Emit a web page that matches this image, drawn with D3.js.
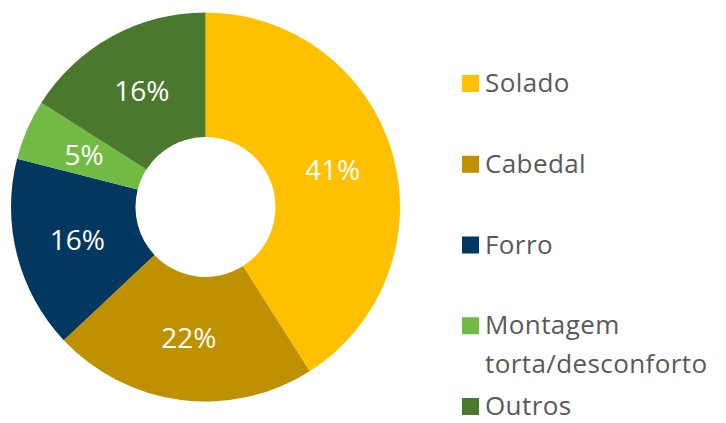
<!DOCTYPE html>
<html>
<head>
<meta charset="utf-8">
<script src="https://d3js.org/d3.v7.min.js"></script>
<style>
    html, body {
        margin: 0;
        padding: 0;
        background: white;
        overflow: hidden;
    }
    text {
        font-family: "Open Sans", sans-serif;
        font-weight: 500;
    }
    .slice-label {
        fill: white;
        font-size: 28px;
        text-anchor: middle;
    }
    .legend text {
        fill: #595959;
        font-size: 26px;
        letter-spacing: 0.4px;
    }
</style>
</head>
<body>
<svg width="726" height="423"></svg>
<script>
    var categories = ["Solado", "Cabedal", "Forro", "Montagem\ntorta/desconforto", "Outros"];
    var values = [41, 22, 16, 5, 16];
    var colors = ["#FFC000", "#BF9000", "#02375F", "#71BB45", "#4A782D"];

    var width = 726, height = 423;
    var cx = 205.5, cy = 207,
        outerR = 194.5, innerR = 70;

    var svg = d3.select("svg");

    var color = d3.scaleOrdinal().domain(categories).range(colors);

    var pie = d3.pie().sort(null).value(function (d, i) { return values[i]; });
    var arc = d3.arc().innerRadius(innerR).outerRadius(outerR);

    var chart = svg.append("g")
        .attr("transform", "translate(" + cx + "," + cy + ")");

    var slices = chart.selectAll("g.slice")
        .data(pie(categories))
        .enter().append("g")
        .attr("class", "slice");

    slices.append("path")
        .attr("d", arc)
        .attr("fill", function (d) { return color(d.data); });

    slices.append("text")
        .attr("class", "slice-label")
        .attr("transform", function (d) { return "translate(" + arc.centroid(d) + ")"; })
        .attr("dy", "0.36em")
        .text(function (d) { return d.value + "%"; });

    // legend, one row per category
    var legendY = d3.scalePoint().domain(categories).range([92, 415]);

    var legend = svg.append("g")
        .attr("class", "legend")
        .selectAll("g")
        .data(categories)
        .enter().append("g")
        .attr("transform", function (d) { return "translate(462," + legendY(d) + ")"; });

    legend.append("rect")
        .attr("y", -17)
        .attr("width", 17)
        .attr("height", 17)
        .attr("fill", function (d) { return color(d); });

    legend.append("text")
        .attr("x", 23)
        .selectAll("tspan")
        .data(function (d) { return d.split("\n"); })
        .enter().append("tspan")
        .attr("x", 23)
        .attr("y", function (d, i) { return i * 39; })
        .text(function (d) { return d; });
</script>
</body>
</html>
